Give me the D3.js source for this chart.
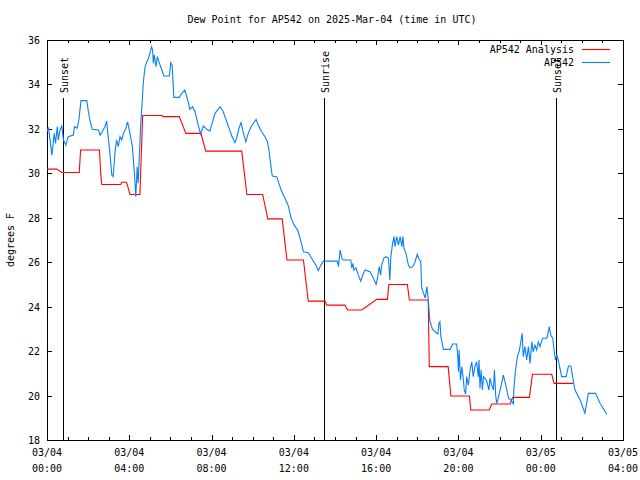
<!DOCTYPE html>
<html><head><meta charset="utf-8">
<script src="https://cdn.jsdelivr.net/npm/d3@7"></script>
<style>
body{margin:0;background:#fff}
svg text{font-family:"DejaVu Sans Mono","Liberation Mono",monospace;font-size:10px;fill:#000}
</style>
</head><body>
<svg id="chart" width="640" height="480"></svg>
<script>
// ---- data (minutes since 2025-03-04 00:00 UTC, dew point in degrees F) ----
const obsMinutes = [0,4,9,14,18,21,25,30,33,38,43,48,55,62,77,80,88,93,99,116,120,125,132,150,155,161,169,174,177,184,189,193,198,203,208,213,218,223,230,235,242,249,255,259,263,266,271,274,278,281,286,291,295,300,305,308,310,313,318,322,328,335,341,357,361,365,370,386,393,402,409,417,424,432,441,448,456,466,475,490,505,514,526,539,548,553,560,566,573,580,587,595,605,610,616,626,636,643,648,652,657,670,678,685,694,704,712,721,731,741,748,762,772,784,791,799,806,847,850,855,860,864,886,889,892,895,901,908,915,923,928,942,950,960,963,969,973,976,983,989,996,1000,1003,1008,1012,1015,1020,1025,1030,1035,1038,1041,1047,1054,1059,1067,1073,1080,1086,1090,1093,1098,1103,1108,1112,1117,1124,1132,1140,1143,1146,1149,1156,1176,1183,1195,1198,1200,1202,1206,1210,1214,1217,1221,1224,1229,1234,1239,1243,1248,1253,1258,1260,1263,1266,1270,1273,1278,1283,1289,1292,1297,1302,1305,1309,1312,1316,1324,1331,1336,1341,1346,1353,1360,1362,1366,1372,1378,1382,1386,1389,1394,1399,1404,1409,1414,1418,1423,1428,1433,1438,1445,1458,1462,1465,1469,1475,1479,1483,1487,1491,1496,1501,1514,1521,1528,1533,1540,1555,1569,1579,1600,1613,1633];
const obsDewpoint = [31.87,32.07,31.5,30.82,31.35,31.8,31.35,32.1,31.5,31.95,32.13,31.5,31.27,31.65,31.72,32.1,32.03,32.4,33.27,33.27,32.85,32.4,31.98,31.95,31.72,31.87,32.1,32.35,31.87,30.82,29.92,29.85,30.9,31.5,31.2,31.65,31.5,31.8,32.03,32.32,31.8,31.2,30.0,28.95,30.3,29.55,31.35,32.4,33.3,34.11,34.78,35.02,35.13,35.4,35.7,35.55,34.95,35.32,34.8,35.25,34.95,34.65,34.38,34.38,34.98,34.87,33.42,33.42,33.6,33.75,33.38,32.88,33.0,32.77,32.17,31.77,32.13,31.98,31.9,32.7,33.0,32.77,32.25,31.68,31.38,31.58,32.03,32.28,31.8,31.42,31.8,32.1,32.32,32.43,32.17,31.87,31.65,31.42,30.97,30.45,29.88,29.85,29.47,29.17,28.88,28.53,27.98,27.67,27.45,26.92,26.47,26.43,26.18,25.87,25.62,25.87,26.05,26.05,25.8,26.55,26.18,26.1,26.1,25.73,25.95,25.65,25.75,25.42,25.15,25.5,25.65,25.57,25.35,25.01,25.2,25.8,25.42,25.87,26.2,26.25,26.18,25.2,26.25,26.85,27.15,26.7,27.15,26.77,27.15,26.7,27.15,26.63,26.4,25.87,25.75,25.8,26.0,26.36,26.1,26.05,24.84,24.61,24.39,24.9,24.3,23.35,23.0,22.87,22.77,23.25,23.32,22.65,22.08,22.08,22.32,22.32,21.75,21.07,22.05,20.7,21.3,20.78,20.25,20.07,20.85,20.47,21.15,21.52,20.85,21.3,21.52,20.85,21.6,20.33,21.15,20.25,20.85,20.78,20.62,20.25,20.78,20.47,20.25,21.15,19.95,19.65,19.88,20.4,20.92,20.62,20.25,19.88,19.8,19.62,20.33,21.07,21.75,22.05,22.42,22.8,21.75,22.2,21.6,22.2,21.45,22.42,21.97,22.27,22.05,22.42,22.2,22.58,22.58,22.87,23.1,22.72,22.58,22.05,21.6,21.82,21.6,21.23,20.85,20.85,21.33,21.33,20.85,20.25,19.8,19.21,20.1,20.1,19.65,19.15];
const anaMinutes = [0,28,43,94,98,153,157,160,215,218,232,242,271,279,335,338,386,405,449,463,568,583,629,644,686,700,748,762,811,816,869,877,918,962,993,997,1051,1057,1112,1115,1170,1178,1232,1236,1290,1297,1351,1358,1407,1416,1472,1479,1535];
const anaDewpoint = [30.19,30.19,30.04,30.04,31.05,31.05,29.9,29.5,29.5,29.6,29.6,29.05,29.05,32.6,32.6,32.55,32.55,31.8,31.8,31.0,31.0,29.05,29.05,27.95,27.95,26.1,26.1,24.25,24.25,24.07,24.07,23.85,23.85,24.33,24.33,25.0,25.0,24.3,24.3,21.3,21.3,19.98,19.98,19.35,19.35,19.62,19.62,19.92,19.92,20.96,20.96,20.55,20.55];
const sunLabels = ["Sunset","Sunrise","Sunset"];
const sunMinutes = [47,808,1486];
const xTickHours = [0,4,8,12,16,20,24,28];
const xTickDates = ["03/04","03/04","03/04","03/04","03/04","03/04","03/05","03/05"];
const xTickTimes = ["00:00","04:00","08:00","12:00","16:00","20:00","00:00","04:00"];
const yTicks = [18,20,22,24,26,28,30,32,34,36];
const seriesNames = ["AP542 Analysis","AP542"];
const seriesColors = ["#ff0000","#0a80f5"];
const titleText = "Dew Point for AP542 on 2025-Mar-04 (time in UTC)";
const yLabelText = "degrees F";

// ---- layout ----
const L = 47, R = 623, T = 40, B = 440;
const svg = d3.select("#chart");
const x = d3.scaleLinear().domain([0, 28*60]).range([L, R]);
const y = d3.scaleLinear().domain([18, 36]).range([B, T]);

const minorHours = d3.range(0, 29);
const g = svg.append("g").attr("shape-rendering","crispEdges");

function axis(gen, tr, vals, size) {
  const a = g.append("g").attr("transform", tr)
    .call(gen.tickValues(vals).tickSize(size).tickFormat(""));
  a.select(".domain").remove();
  a.selectAll("line").attr("stroke","#000");
}
axis(d3.axisBottom(x), `translate(0,${B})`, minorHours.map(h=>h*60), -3);
axis(d3.axisBottom(x), `translate(0,${B})`, xTickHours.map(h=>h*60), -5);
axis(d3.axisTop(x), `translate(0,${T})`, minorHours.map(h=>h*60), -3);
axis(d3.axisTop(x), `translate(0,${T})`, xTickHours.map(h=>h*60), -5);
axis(d3.axisLeft(y), `translate(${L},0)`, yTicks, -5);
axis(d3.axisRight(y), `translate(${R},0)`, yTicks, -5);

// frame
g.append("rect").attr("x",L).attr("y",T).attr("width",R-L).attr("height",B-T)
  .attr("fill","none").attr("stroke","#000");

// tick labels
svg.append("g").selectAll("text").data(yTicks).join("text")
  .attr("x", L-7).attr("y", d=>y(d)+4).attr("text-anchor","end").text(d=>d);
const xl = svg.append("g").selectAll("text").data(xTickHours).join("text")
  .attr("text-anchor","middle");
xl.append("tspan").attr("x", d=>x(d*60)).attr("y", 456).text((d,i)=>xTickDates[i]);
xl.append("tspan").attr("x", d=>x(d*60)).attr("y", 472).text((d,i)=>xTickTimes[i]);

// title and y label
svg.append("text").attr("x",332).attr("y",23).attr("text-anchor","middle").text(titleText);
svg.append("text").attr("transform","translate(14,240) rotate(-90)")
  .attr("text-anchor","middle").text(yLabelText);

// sun event lines
const sun = svg.append("g");
sun.selectAll("line").data(sunMinutes).join("line")
  .attr("x1", d=>Math.round(x(d))+0.5).attr("x2", d=>Math.round(x(d))+0.5)
  .attr("y1", 98).attr("y2", B).attr("stroke","#000");
sun.selectAll("text").data(sunMinutes).join("text")
  .attr("transform", d=>`translate(${Math.round(x(d))+1},93) rotate(-90)`)
  .attr("dy","0.35em").attr("text-anchor","start").text((d,i)=>sunLabels[i]);

// series
const line = d3.line().x(d=>x(d[0])).y(d=>y(d[1]));
const ana = anaMinutes.map((m,i)=>[m, anaDewpoint[i]]);
const obs = obsMinutes.map((m,i)=>[m, obsDewpoint[i]]);
svg.append("path").datum(ana).attr("d", line).attr("fill","none")
  .attr("stroke", seriesColors[0]).attr("stroke-width",1.1);
svg.append("path").datum(obs).attr("d", line).attr("fill","none")
  .attr("stroke", seriesColors[1]).attr("stroke-width",1.1);

// legend
const lg = svg.append("g");
seriesNames.forEach((n,i)=>{
  const yy = 49 + i*13;
  lg.append("text").attr("x",574).attr("y",yy+4).attr("text-anchor","end").text(n);
  lg.append("line").attr("x1",582).attr("x2",610).attr("y1",yy+0.5).attr("y2",yy+0.5)
    .attr("stroke",seriesColors[i]).attr("stroke-width",1.1);
});
</script>
</body></html>
